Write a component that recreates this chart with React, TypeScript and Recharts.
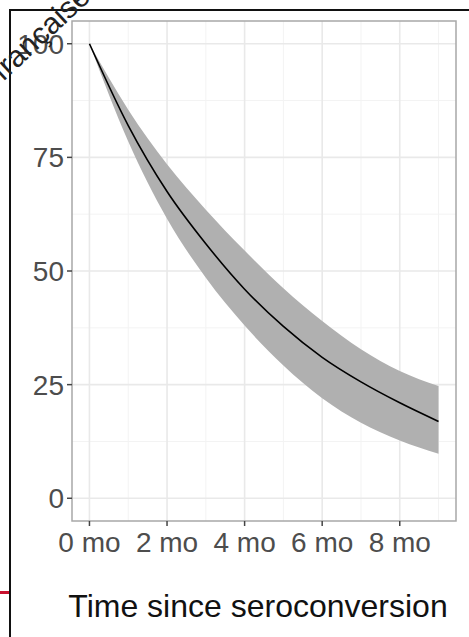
import {
  Area,
  CartesianGrid,
  ComposedChart,
  Line,
  ReferenceArea,
  XAxis,
  YAxis,
} from "recharts";

// months since seroconversion
const months = [0, 1, 2, 3, 4, 5, 6, 7, 8, 9];
// fitted curve and its confidence band (% still positive)
const estimate = [100, 82, 67.5, 56, 46, 37.8, 31, 25.6, 21, 16.9];
const lower = [100, 78.5, 61.5, 48.5, 38, 29.2, 22, 16.6, 12.7, 9.8];
const upper = [100, 85.5, 73.5, 63.5, 54.5, 46.2, 39, 32.8, 28, 24.7];

const xTicks = [0, 2, 4, 6, 8];
const xMinor = [1, 3, 5, 7, 9];
const yTicks = [0, 25, 50, 75, 100];
const yMinor = [12.5, 37.5, 62.5, 87.5];

const data = months.map((m, i) => ({
  month: m,
  est: estimate[i],
  band: [lower[i], upper[i]],
}));

const AxisTitle = (props: any) => {
  const vb = props.viewBox || {};
  return (
    <text
      x={vb.x + vb.width / 2 - 6}
      y={617}
      textAnchor="middle"
      fontSize={32}
      fill="#111"
    >
      Time since seroconversion
    </text>
  );
};

const App = () => {
  return (
    <div
      style={{
        position: "absolute",
        left: 0,
        top: 0,
        width: 469,
        height: 637,
        overflow: "hidden",
        background: "#fff",
        fontFamily: "'Liberation Sans', Arial, Helvetica, sans-serif",
      }}
    >
      <ComposedChart
        width={469}
        height={637}
        data={data}
        margin={{ top: 21, right: 13, bottom: 0, left: 0 }}
      >
        <CartesianGrid
          stroke="#f3f3f3"
          strokeWidth={1}
          horizontalValues={yMinor}
          verticalValues={xMinor}
        />
        <CartesianGrid
          stroke="#e9e9e9"
          strokeWidth={1.6}
          horizontalValues={yTicks}
          verticalValues={xTicks}
        />
        <XAxis
          dataKey="month"
          type="number"
          domain={[-0.45, 9.45]}
          ticks={xTicks}
          interval={0}
          allowDataOverflow
          tickFormatter={(v) => `${v} mo`}
          height={116}
          axisLine={false}
          tickSize={5}
          tickMargin={6}
          tickLine={{ stroke: "#444", strokeWidth: 1.5 }}
          tick={{ fill: "#4d4d4d", fontSize: 28 }}
          label={{ content: AxisTitle }}
        />
        <YAxis
          type="number"
          domain={[-5, 105]}
          ticks={yTicks}
          interval={0}
          allowDataOverflow
          width={72}
          axisLine={false}
          tickSize={5}
          tickMargin={3}
          tickLine={{ stroke: "#444", strokeWidth: 1.5 }}
          tick={{ fill: "#4d4d4d", fontSize: 28 }}
        />
        <Area
          type="monotone"
          dataKey="band"
          fill="#b0b0b0"
          fillOpacity={1}
          stroke="none"
          isAnimationActive={false}
        />
        <Line
          type="monotone"
          dataKey="est"
          stroke="#000"
          strokeWidth={1.6}
          dot={false}
          isAnimationActive={false}
        />
        <ReferenceArea
          x1={-0.45}
          x2={9.45}
          y1={-5}
          y2={105}
          fill="none"
          stroke="#a8a8a8"
          strokeWidth={1.5}
          ifOverflow="visible"
        />
      </ComposedChart>

      {/* page frame, margin mark and the cut-off caption */}
      <div
        style={{
          position: "absolute",
          left: 9,
          top: 9,
          right: -4,
          bottom: -4,
          borderTop: "2px solid #111",
          borderLeft: "2px solid #111",
        }}
      />
      <div
        style={{
          position: "absolute",
          left: 0,
          top: 591,
          width: 9,
          height: 3,
          background: "#c8102e",
        }}
      />
      <svg
        width={469}
        height={637}
        style={{ position: "absolute", left: 0, top: 0, pointerEvents: "none" }}
      >
        <text
          x={3}
          y={82}
          transform="rotate(-43 3 82)"
          fontSize={30}
          fill="#222"
        >
          française
        </text>
      </svg>
    </div>
  );
};

export default App;
